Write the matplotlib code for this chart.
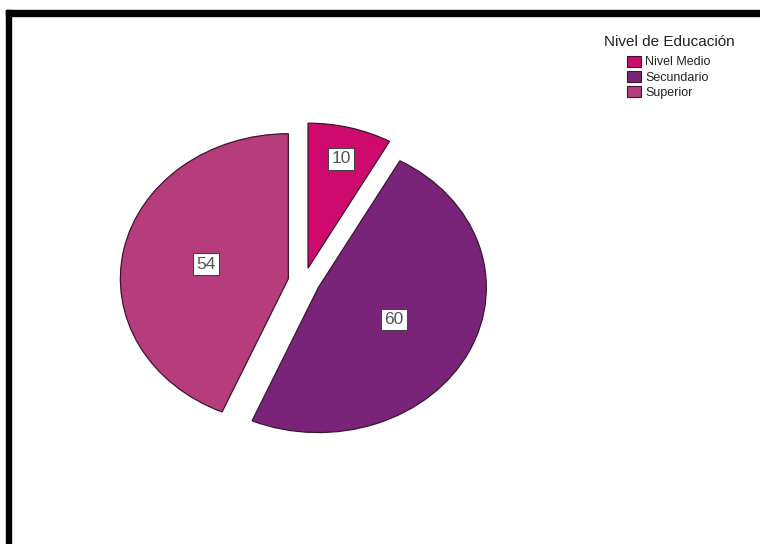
import numpy as np
import matplotlib
matplotlib.use("Agg")
import matplotlib.pyplot as plt
from matplotlib.patches import Patch, Rectangle

plt.rcParams['font.family'] = ['Liberation Sans', 'DejaVu Sans']

# Nivel de educación: frecuencias
categorias = ['Nivel Medio', 'Secundario', 'Superior']
frecuencias = [10, 60, 54]
colores = ['#cf0a6e', '#7a2479', '#b73c7b']
dist_etiqueta = [0.78, 0.5, 0.5]

W, H = 760, 544
fig = plt.figure(figsize=(W / 100, H / 100), dpi=100)

# ellipse-shaped pie: axes box is wider than tall, aspect left on auto
cx, cy, rx, ry = 304, 281.5, 168, 145
ax = fig.add_axes([(cx - 1.25 * rx) / W, (H - cy - 1.25 * ry) / H,
                   2.5 * rx / W, 2.5 * ry / H])

wedges, _ = ax.pie(frecuencias, colors=colores, startangle=90, counterclock=False,
                   explode=[0.095] * len(frecuencias),
                   wedgeprops=dict(edgecolor='#3b1530', linewidth=0.9))
ax.set_aspect('auto')
ax.set_xlim(-1.25, 1.25)
ax.set_ylim(-1.25, 1.25)
ax.axis('off')

# value labels in white boxes inside each slice
for w, val, d in zip(wedges, frecuencias, dist_etiqueta):
    ang = np.deg2rad((w.theta1 + w.theta2) / 2)
    x = w.center[0] + d * np.cos(ang)
    y = w.center[1] + d * np.sin(ang)
    ax.text(x, y, str(val), ha='center', va='center', fontsize=12.5, color='#555555',
            bbox=dict(boxstyle='square,pad=0.2', fc='white', ec='#444444', lw=0.8))

# legend title drawn on its own, entries below it
fig.text(669 / W, 1 - 42 / H, 'Nivel de Educación', ha='center', va='center',
         fontsize=11, color='#222222')
handles = [Patch(facecolor=c, edgecolor='#3b1530', linewidth=0.8) for c in colores]
leg = fig.legend(handles, categorias,
                 loc='upper center', bbox_to_anchor=(669 / W, 1 - 55.5 / H),
                 frameon=False, fontsize=9,
                 handlelength=1.1, handleheight=1.0, handletextpad=0.35,
                 labelspacing=0.2, borderaxespad=0, borderpad=0)
for t in leg.get_texts():
    t.set_color('#222222')

# black frame along top and left edges
fig.patches.append(Rectangle((6 / W, 1 - 15.5 / H), 1, 5.5 / H,
                             transform=fig.transFigure, color='black', zorder=5))
fig.patches.append(Rectangle((6 / W, 0), 5 / W, 1 - 10 / H,
                             transform=fig.transFigure, color='black', zorder=5))

fig.savefig('out.png', dpi=100, facecolor='white')
